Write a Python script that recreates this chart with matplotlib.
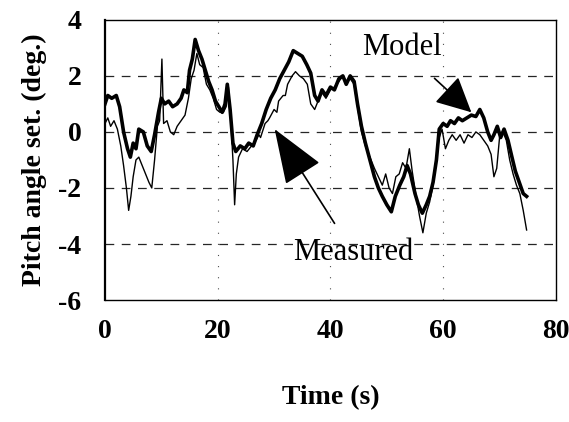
import matplotlib.pyplot as plt

plt.rcParams['font.family'] = ['Liberation Serif', 'DejaVu Serif']
plt.rcParams['axes.unicode_minus'] = False

model_t = [0, 0.5, 1.2, 2.0, 2.6, 3.3, 4.0, 4.5, 5.0, 5.5, 6.0, 6.8, 7.5, 8.2, 8.8,
           9.5, 10.0, 10.6, 11.3, 12.0, 12.8, 13.5, 14.0, 14.6, 15.0, 15.5, 16.0,
           16.6, 17.2, 17.8, 18.4, 19.0, 19.6, 20.2, 20.8, 21.3, 21.7, 22.2, 22.7,
           23.2, 24.0, 24.8, 25.5, 26.3, 27.0, 27.8, 28.6, 29.4, 30.2, 31.0, 31.8,
           32.6, 33.4, 34.2, 35.0, 35.8, 36.5, 37.2, 37.8, 38.5, 39.2, 40.0, 40.7,
           41.5, 42.2, 42.8, 43.5, 44.2, 44.8, 45.5, 46.2, 47.0, 47.8, 48.5, 49.2,
           50.0, 50.8, 51.5, 52.3, 53.0, 53.6, 54.2, 55.0, 55.6, 56.3, 57.0, 57.6,
           58.2, 58.8, 59.3, 60.0, 60.7, 61.3, 62.0, 62.7, 63.4, 64.2, 65.0, 65.8,
           66.5, 67.2, 67.9, 68.5, 69.0, 69.6, 70.2, 70.8, 71.5, 72.2, 72.8, 73.5,
           74.2, 74.8]
model_v = [1.0, 1.3, 1.2, 1.3, 0.9, 0.0, -0.6, -0.9, -0.4, -0.6, 0.1, 0.0, -0.5,
           -0.7, -0.1, 0.7, 1.2, 1.0, 1.1, 0.9, 1.0, 1.2, 1.5, 1.4, 2.2, 2.6, 3.3,
           2.9, 2.6, 2.2, 1.8, 1.5, 1.1, 0.9, 0.7, 1.0, 1.7, 0.8, -0.4, -0.7, -0.5,
           -0.6, -0.4, -0.5, -0.1, 0.3, 0.8, 1.2, 1.5, 1.9, 2.2, 2.5, 2.9, 2.8, 2.7,
           2.4, 2.1, 1.3, 1.1, 1.5, 1.3, 1.6, 1.5, 1.9, 2.0, 1.7, 2.0, 1.8, 1.0, 0.2,
           -0.4, -1.0, -1.6, -2.0, -2.3, -2.6, -2.85, -2.3, -1.9, -1.6, -1.2, -1.5,
           -2.2, -2.6, -2.9, -2.6, -2.3, -1.8, -1.0, 0.1, 0.3, 0.2, 0.4, 0.3, 0.5,
           0.4, 0.5, 0.6, 0.55, 0.8, 0.5, 0.0, -0.3, -0.1, 0.2, -0.2, 0.1, -0.3,
           -0.9, -1.4, -1.8, -2.2, -2.3]

# measured pitch angle setting
meas_t = [0, 0.5, 1.0, 1.6, 2.2, 2.8, 3.3, 3.8, 4.2, 4.6, 5.0, 5.5, 6.0, 6.6, 7.2,
          7.8, 8.3, 8.8, 9.3, 9.7, 10.1, 10.4, 11.0, 11.6, 12.2, 12.8, 13.5, 14.2,
          14.8, 15.3, 15.8, 16.3, 16.8, 17.4, 18.0, 18.6, 19.2, 19.8, 20.4, 21.0,
          21.5, 21.9, 22.3, 22.7, 23.0, 23.3, 23.7, 24.4, 25.2, 26.0, 26.8, 27.3,
          27.6, 28.4, 28.9, 29.2, 30.0, 30.5, 30.8, 31.6, 32.0, 32.4, 33.2, 33.8,
          34.5, 35.2, 35.9, 36.5, 37.2, 37.8, 38.5, 39.2, 40.0, 40.7, 41.5, 42.2,
          42.8, 43.5, 44.2, 44.8, 45.5, 46.2, 47.0, 47.8, 48.5, 49.2, 49.8, 50.4,
          51.0, 51.6, 52.2, 52.8, 53.4, 54.0, 54.5, 55.2, 55.8, 56.4, 57.0, 57.6,
          58.2, 58.8, 59.3, 59.8, 60.4, 61.0, 61.6, 62.3, 63.0, 63.7, 64.4, 65.1,
          65.8, 66.5, 67.2, 67.9, 68.5, 69.0, 69.5, 70.0, 70.6, 71.2, 71.8, 72.4,
          73.0, 73.6, 74.2, 74.8]
meas_v = [0.3, 0.5, 0.2, 0.4, 0.1, -0.5, -1.2, -2.0, -2.8, -2.3, -1.6, -1.0, -0.9,
          -1.2, -1.5, -1.8, -2.0, -1.0, 0.2, 0.4, 2.6, 0.3, 0.4, 0.0, -0.1, 0.2,
          0.4, 0.6, 1.2, 1.9, 2.2, 2.8, 2.4, 2.3, 1.7, 1.5, 1.2, 0.8, 0.7, 0.7, 0.9,
          1.6, 0.5, -1.0, -2.6, -1.5, -0.9, -0.6, -0.7, -0.5, -0.3, -0.1, -0.2,
          0.3, 0.4, 0.5, 0.8, 0.7, 1.1, 1.3, 1.3, 1.7, 2.0, 2.15, 2.0, 1.9, 1.7,
          1.0, 0.8, 1.1, 1.4, 1.2, 1.5, 1.6, 1.8, 2.0, 1.8, 1.9, 1.7, 0.9, 0.0,
          -0.5, -0.9, -1.3, -1.6, -1.9, -1.5, -2.0, -2.2, -1.6, -1.5, -1.1, -1.3,
          -0.6, -1.4, -2.3, -3.0, -3.6, -2.9, -2.5, -1.9, -0.9, -0.2, 0.1, -0.6,
          -0.3, -0.1, -0.3, -0.1, -0.4, -0.1, -0.2, 0.0, -0.1, -0.3, -0.5, -0.8,
          -1.6, -1.3, -0.2, 0.0, -0.3, -1.0, -1.5, -1.9, -2.2, -2.8, -3.5]

x_ticks = [0, 20, 40, 60, 80]
y_ticks = [-6, -4, -2, 0, 2, 4]

fig = plt.figure(figsize=(5.69, 4.22), dpi=100)
ax = fig.add_axes([0.1845, 0.289, 0.7925, 0.664])

# grid: dashed horizontals, sparse dotted verticals
for y in [2, 0, -2, -4]:
    ax.axhline(y, color='0.15', lw=0.9, ls=(0, (7, 6)), zorder=1)
for x in [20, 40, 60]:
    ax.axvline(x, color='0.3', lw=0.8, ls=(0, (1, 9)), zorder=1)

ax.plot(meas_t, meas_v, color='black', lw=1.0, zorder=3)
ax.plot(model_t, model_v, color='black', lw=2.6, zorder=2)

ax.set_xlim(0, 80)
ax.set_ylim(-6, 4)
ax.set_xticks(x_ticks)
ax.set_yticks(y_ticks)
ax.tick_params(length=0, labelsize=20)
ax.tick_params(axis='x', pad=14)
ax.tick_params(axis='y', pad=17)
for lab in ax.get_xticklabels() + ax.get_yticklabels():
    lab.set_fontweight('bold')

for side in ['top', 'right', 'bottom']:
    ax.spines[side].set_linewidth(1.0)
ax.spines['left'].set_linewidth(1.6)

ax.set_xlabel('Time (s)', fontsize=20, fontweight='bold', labelpad=29)
ax.set_ylabel('Pitch angle set. (deg.)', fontsize=20, fontweight='bold', labelpad=8)

ax.annotate('Model', xy=(65, 0.7), xytext=(52.6, 3.0), fontsize=22,
            ha='center', va='center',
            arrowprops=dict(arrowstyle='-|>,head_length=1.0,head_width=0.5',
                            color='black', lw=1.2, shrinkA=14, shrinkB=0))
ax.annotate('Measured', xy=(30.1, 0.1), xytext=(44, -4.3), fontsize=22,
            ha='center', va='center',
            arrowprops=dict(arrowstyle='-|>,head_length=1.6,head_width=0.6',
                            color='black', lw=1.2, shrinkA=10, shrinkB=0))

fig.savefig('out.png', dpi=100)
